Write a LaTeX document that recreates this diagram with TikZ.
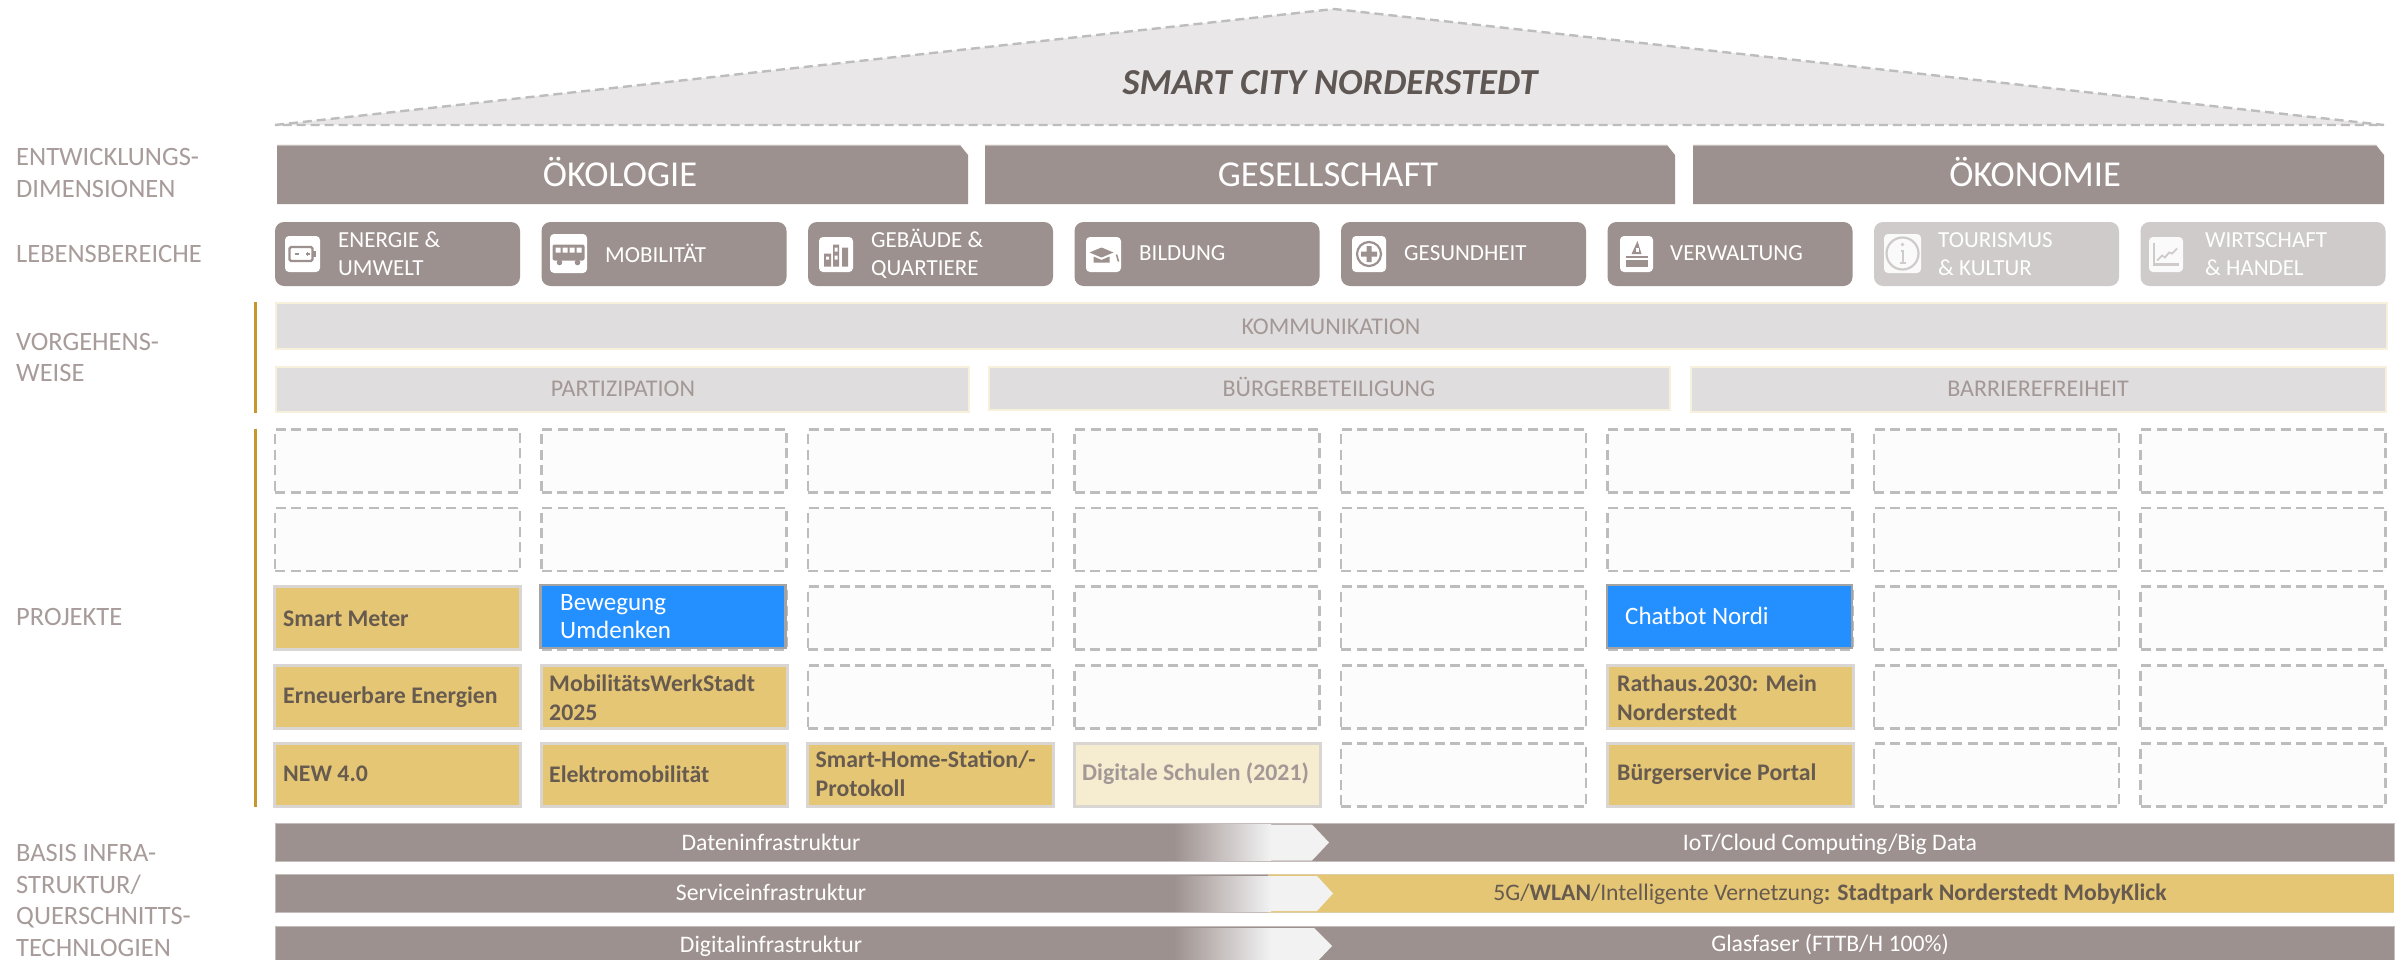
\documentclass[tikz,border=0pt]{standalone}
\usepackage{fontspec}
\setmainfont{Carlito}
\usetikzlibrary{calc}
\newcommand{\fsz}[2]{\fontsize{#1}{#2}\selectfont}
\definecolor{barg}{HTML}{9D918F}
\definecolor{barline}{HTML}{C4BDBB}
\definecolor{fadeg}{HTML}{CFCBCA}
\definecolor{rooff}{HTML}{E9E7E8}
\definecolor{dashc}{HTML}{BDBDBD}
\definecolor{sidetxt}{HTML}{A79C99}
\definecolor{graybar}{HTML}{DFDDDE}
\definecolor{paleedge}{HTML}{F7F0DA}
\definecolor{graytxt}{HTML}{A39895}
\definecolor{goldf}{HTML}{E5C675}
\definecolor{goldpale}{HTML}{F6ECD0}
\definecolor{boxedge}{HTML}{D9D5D3}
\definecolor{darktxt}{HTML}{675B4F}
\definecolor{bluef}{HTML}{2490FF}
\definecolor{blueedge}{HTML}{A3A3A3}
\definecolor{goldline}{HTML}{C8962E}
\definecolor{titletxt}{HTML}{5F5754}
\definecolor{chev}{HTML}{F2F2F2}
\definecolor{cellf}{HTML}{FCFCFC}
\tikzset{
  sidelabel/.style={anchor=west,align=left,text=sidetxt,font=\fsz{26.5}{31.7},inner sep=0pt},
  dimtext/.style={anchor=base,text=white,font=\fsz{36.5}{38},inner sep=0pt},
  lifebox/.style={draw=none,fill=barg,rounded corners=9pt,minimum width=245pt,minimum height=64pt,inner sep=0pt},
  lifefade/.style={lifebox,fill=fadeg},
  iconbox/.style={fill=white,rounded corners=4pt,inner sep=0pt},
  lifetext/.style={anchor=west,align=left,text=white,font=\fsz{23}{28},inner sep=0pt},
  processbar/.style={draw=paleedge,line width=2pt,fill=graybar,inner sep=0pt},
  processtext/.style={anchor=base,text=graytxt,font=\fsz{24}{26},inner sep=0pt},
  dashbox/.style={draw=dashc,line width=2.6pt,dash pattern=on 10pt off 5.5pt,fill=cellf,minimum width=245pt,minimum height=63pt,inner sep=0pt},
  goldbox/.style={draw=boxedge,line width=3pt,fill=goldf,minimum width=246pt,minimum height=62.5pt,inner sep=0pt},
  paleb/.style={goldbox,fill=goldpale},
  bluebox/.style={draw=blueedge,line width=2.5pt,fill=bluef,minimum width=245pt,minimum height=63pt,inner sep=0pt},
  goldtext/.style={anchor=west,align=left,text=darktxt,font=\bfseries\fsz{23.8}{29},inner sep=0pt},
  bluetext/.style={anchor=west,align=left,text=white,font=\fsz{25}{28},inner sep=0pt},
  basebar/.style={fill=barg,draw=barline,line width=1pt},
  basetext/.style={anchor=base,text=white,font=\fsz{23.7}{26},inner sep=0pt},
  glyph/.style={line width=2.2pt,draw=barg,fill=none},
  glyphfade/.style={line width=2.2pt,draw=fadeg,fill=none},
}
\begin{document}
\begin{tikzpicture}[x=1pt,y=-1pt]
\useasboundingbox (0,0) rectangle (2405,960);
\fill[white] (0,0) rectangle (2405,960);
% roof
\coordinate (rl) at (275,125);
\coordinate (ra) at (1334,9);
\coordinate (rr) at (2384,125);
\draw[fill=rooff,draw=dashc,line width=2.4pt,dash pattern=on 9pt off 5pt] (rl) -- (ra) -- (rr) -- cycle;
\node[text=titletxt,font=\bfseries\itshape\fsz{36.6}{38},inner sep=0pt] (title) at (1330,83) {SMART CITY NORDERSTEDT};
% dimension bars
\foreach \a/\b in {277/968,985/1675,1693/2384}{
  \fill[barg] (\a,145) -- ({\b-8},145) -- (\b,155) -- (\b,204) -- (\a,204) -- cycle;
  \draw[barline,line width=1pt] (\a,145.5) -- ({\b-8},145.5);
}
\node[dimtext] (oeko) at (620,186) {ÖKOLOGIE};
\node[dimtext] (ges) at (1328,186) {GESELLSCHAFT};
\node[dimtext] (oekon) at (2035,186) {ÖKONOMIE};
% side labels
\node[sidelabel] (s1) at (16,173) {ENTWICKLUNGS-\\DIMENSIONEN};
\node[sidelabel] (s2) at (16,254) {LEBENSBEREICHE};
\node[sidelabel] (s3) at (16,357.5) {VORGEHENS-\\WEISE};
\node[sidelabel] (s4) at (16,617) {PROJEKTE};
\node[sidelabel] (s5) at (16,900.5) {BASIS INFRA-\\STRUKTUR/\\QUERSCHNITTS-\\TECHNLOGIEN};
% life areas
\foreach \c/\st in {0/lifebox,1/lifebox,2/lifebox,3/lifebox,4/lifebox,5/lifebox,6/lifefade,7/lifefade}{
  \node[\st] (life\c) at ({397.5+266.5*\c},254) {};
}
\node[iconbox,minimum width=35pt,minimum height=36pt] (ic0) at (302.5,254) {};
\node[iconbox,minimum width=37pt,minimum height=39pt] (ic1) at (568.5,253.5) {};
\node[iconbox,minimum width=34pt,minimum height=35pt] (ic2) at (836,254.5) {};
\node[iconbox,minimum width=35pt,minimum height=35pt] (ic3) at (1103.5,254.5) {};
\node[iconbox,minimum width=34pt,minimum height=36pt] (ic4) at (1369,254) {};
\node[iconbox,minimum width=33pt,minimum height=36pt] (ic5) at (1636.5,254) {};
\node[iconbox,minimum width=37pt,minimum height=39pt,fill=white!90!fadeg] (ic6) at (1902.5,253.5) {};
\node[iconbox,minimum width=34pt,minimum height=35pt,fill=white!90!fadeg] (ic7) at (2166,254.5) {};
% battery
\begin{scope}[shift={(ic0.center)}]
  \draw[glyph,rounded corners=1.5pt] (-13,-7) rectangle (10,7);
  \fill[barg] (10,-3) rectangle (13,3);
  \draw[barg,line width=1.5pt] (-8,0) -- (-4,0) (3,0) -- (7,0) (5,-2) -- (5,2);
\end{scope}
% bus
\begin{scope}[shift={(ic1.center)}]
  \fill[barg,rounded corners=2pt] (-16,-9) rectangle (16,7);
  \fill[white] (-13,-6) rectangle (-8,-1) (-6,-6) rectangle (-1,-1) (1,-6) rectangle (6,-1) (8,-6) rectangle (13,-1);
  \fill[barg] (-9,9) circle (2.8pt) (9,9) circle (2.8pt);
\end{scope}
% buildings
\begin{scope}[shift={(ic2.center)}]
  \fill[barg] (-12,-1) rectangle (-5,12) (-3,-10) rectangle (3,12) (6,-7) rectangle (12,12);
  \fill[white] (-10,2) rectangle (-7,5) (-1.5,-7) rectangle (1.5,-3) (-1.5,1) rectangle (1.5,5);
\end{scope}
% graduation cap
\begin{scope}[shift={(ic3.center)}]
  \fill[barg] (-14,-2) -- (-2,-7) -- (10,-2) -- (-2,3) -- cycle;
  \fill[barg] (-10,2) -- (-2,5.5) -- (6,2) -- (6,8) -- (-10,8) -- cycle;
  \draw[barg,line width=1.6pt] (13,0) -- (15,7);
\end{scope}
% health
\begin{scope}[shift={(ic4.center)}]
  \draw[glyph] (0,0) circle (12pt);
  \fill[barg] (-2.5,-8) rectangle (2.5,8) (-8,-2.5) rectangle (8,2.5);
\end{scope}
% stamp
\begin{scope}[shift={(ic5.center)}]
  \fill[barg] (1,-13) -- (5,0) -- (-5,0) -- cycle;
  \fill[white] (-1,-6) rectangle (2,-2);
  \fill[barg] (-11,2) rectangle (11,4);
  \fill[barg] (-11,6) rectangle (11,13);
\end{scope}
% info
\begin{scope}[shift={(ic6.center)}]
  \draw[glyphfade] (0,0) circle (16pt);
  \fill[fadeg] (0,-9) circle (1.8pt);
  \draw[fadeg,line width=2pt] (-2,-3) -- (0,-3) -- (0,9) (-3,9) -- (3,9);
\end{scope}
% chart
\begin{scope}[shift={(ic7.center)}]
  \draw[glyphfade] (-12,-12) -- (-12,10) -- (13,10);
  \draw[fadeg,line width=1.8pt] (-9,6) -- (-4,1) -- (-1,3) -- (3,-2) -- (6,-1) -- (11,-6);
\end{scope}
\node[lifetext] (t0) at (338,254) {ENERGIE \&\\UMWELT};
\node[lifetext] (t1) at (605,253) {MOBILITÄT};
\node[lifetext] (t2) at (871,254) {GEBÄUDE \&\\QUARTIERE};
\node[lifetext] (t3) at (1139,253) {BILDUNG};
\node[lifetext] (t4) at (1404,253) {GESUNDHEIT};
\node[lifetext] (t5) at (1670,253) {VERWALTUNG};
\node[lifetext] (t6) at (1938,254) {TOURISMUS\\\& KULTUR};
\node[lifetext] (t7) at (2205,254) {WIRTSCHAFT\\\& HANDEL};
% gold side lines
\coordinate (g1a) at (255.5,302); \coordinate (g1b) at (255.5,413);
\coordinate (g2a) at (255.5,428.5); \coordinate (g2b) at (255.5,806.5);
\draw[goldline,line width=3pt] (g1a) -- (g1b);
\draw[goldline,line width=3pt] (g2a) -- (g2b);
% process bars
\node[processbar,minimum width=2111pt,minimum height=46pt] (komm) at (1331.5,326) {};
\node[processtext] (kommt) at (1331,334) {KOMMUNIKATION};
\node[processbar,minimum width=693pt,minimum height=45pt] (part) at (622.5,389.5) {};
\node[processtext] (partt) at (623,396.5) {PARTIZIPATION};
\node[processbar,minimum width=681pt,minimum height=43pt] (buer) at (1329.5,388.5) {};
\node[processtext] (buert) at (1329,396.5) {BÜRGERBETEILIGUNG};
\node[processbar,minimum width=695pt,minimum height=45pt] (barr) at (2038,389.5) {};
\node[processtext] (barrt) at (2038,396.5) {BARRIEREFREIHEIT};
% empty project cells
\foreach \c in {0,...,7}{
  \foreach \r/\yy in {0/460.7,1/539.4,2/618.2,3/697,4/775}{
    \node[dashbox] (e\c\r) at ({397.5+266.5*\c},\yy) {};
  }
}
% filled project cells
\node[goldbox] (smart) at (397.5,618.2) {};
\node[goldtext] (smartt) at (283,618.6) {Smart Meter};
\node[bluebox] (beweg) at (663,616.5) {};
\node[bluetext] (bewegt) at (560,616.7) {Bewegung\\Umdenken};
\node[goldbox] (chat0) at (397.5,697) {};
\node[goldtext] (erneu) at (283,697) {Erneuerbare Energien};
\node[goldbox] (mob) at (664,697) {};
\node[goldtext] (mobt) at (549,697.5) {MobilitätsWerkStadt\\2025};
\node[goldbox] (new) at (397.5,775) {};
\node[goldtext] (newt) at (283,774) {NEW 4.0};
\node[goldbox] (elek) at (664,775) {};
\node[goldtext] (elekt) at (549,774) {Elektromobilität};
\node[goldbox] (shs) at (930.5,775) {};
\node[goldtext] (shst) at (815.5,774) {Smart-Home-Station/-\\Protokoll};
\node[paleb] (dig) at (1197,775) {};
\node[goldtext,text=graytxt] (digt) at (1082,774) {Digitale Schulen (2021)};
\node[bluebox] (chatb) at (1729.5,616.5) {};
\node[bluetext] (chatt) at (1625,616.2) {Chatbot Nordi};
\node[goldbox] (rat) at (1730,697) {};
\node[goldtext] (ratt) at (1617,697.5) {Rathaus.2030: Mein\\Norderstedt};
\node[goldbox] (bsp) at (1730,775) {};
\node[goldtext] (bspt) at (1617,774) {Bürgerservice Portal};
% base bars
\draw[basebar] (275,823.5) rectangle (2394,861.5);
\fill[goldf] (1268,874.5) rectangle (2394,912.5);
\draw[basebar] (275,874.5) rectangle (1268,912.5);
\draw[boxedge!50!goldf,line width=1pt] (1268,874.5) -- (2394,874.5) (1268,912.5) -- (2394,912.5);
\draw[basebar] (275,926.5) rectangle (2394,965);
\foreach \t/\b/\m/\xe/\xt in {824.5/860.5/842.5/1312/1329, 876/911/893.5/1317/1333, 928/965/946/1314/1332}{
  \fill[chev] (1270,\t) -- (\xe,\t) -- (\xt,\m) -- (\xe,\b) -- (1270,\b) -- cycle;
  \shade[left color=barg,right color=chev] (1174,\t) rectangle (1271,\b);
}
\node[basetext] (b1) at (771,850) {Dateninfrastruktur};
\node[basetext] (b2) at (771,900) {Serviceinfrastruktur};
\node[basetext] (b3) at (771,952) {Digitalinfrastruktur};
\node[basetext] (b4) at (1830,850) {IoT/Cloud Computing/Big Data};
\node[basetext,text=darktxt] (b5) at (1830,900) {5G/\textbf{WLAN}/Intelligente Vernetzung\textbf{: Stadtpark Norderstedt MobyKlick}};
\node[basetext] (b6) at (1830,951) {Glasfaser (FTTB/H 100\%)};
\end{tikzpicture}
\end{document}
